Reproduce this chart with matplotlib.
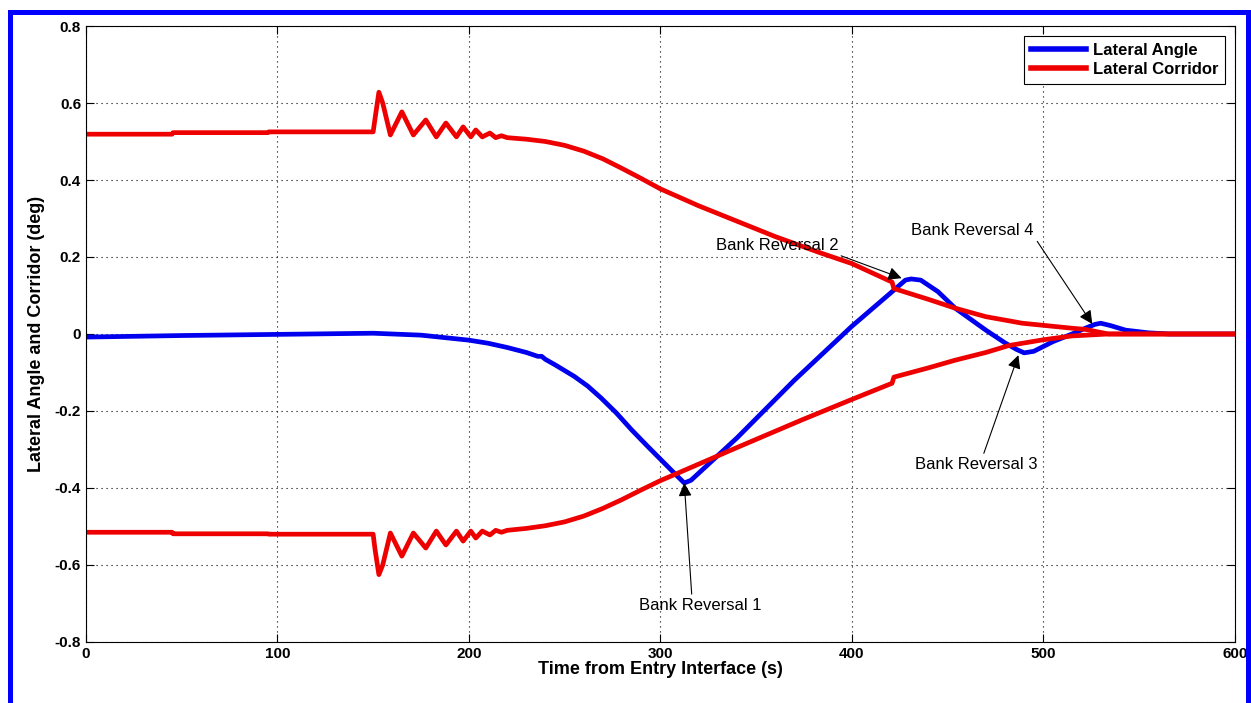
import matplotlib
matplotlib.use("Agg")
import matplotlib.pyplot as plt
from matplotlib.patches import Rectangle

plt.rcParams['font.family'] = ['Liberation Sans', 'DejaVu Sans']

# lateral angle (blue)
t_angle = [0, 50, 100, 150, 175, 200, 210, 220, 230, 236, 238, 240, 245, 255,
           262, 269, 277, 285, 293, 300, 308, 312.5, 316, 340, 370, 400, 422,
           428, 431, 436, 445, 454, 470, 480, 486, 490, 495, 505, 515, 522,
           527, 530, 535, 543, 555, 566, 600]
angle = [-0.008, -0.004, -0.001, 0.002, -0.003, -0.016, -0.024, -0.035, -0.048,
         -0.058, -0.058, -0.066, -0.08, -0.11, -0.135, -0.166, -0.205, -0.249,
         -0.29, -0.325, -0.365, -0.387, -0.38, -0.27, -0.12, 0.02, 0.114,
         0.14, 0.143, 0.14, 0.11, 0.067, 0.01, -0.023, -0.04, -0.049, -0.045,
         -0.02, 0.0, 0.015, 0.025, 0.028, 0.022, 0.01, 0.003, 0.0, 0.0]

# corridor upper bound (red)
t_up = [0, 45, 45.5, 95, 95.5, 150, 151, 153, 155, 159, 165, 171, 177.5, 183,
        188, 193.5, 197, 201, 203.6, 207, 211, 214, 217, 220, 230, 240, 250,
        260, 270, 280, 290, 300, 320, 340, 360, 384, 400, 421, 422, 440, 454,
        470, 489, 515, 522, 534, 600]
corr_up = [0.519, 0.519, 0.523, 0.523, 0.525, 0.525, 0.56, 0.628, 0.6, 0.517,
           0.577, 0.517, 0.556, 0.512, 0.548, 0.512, 0.538, 0.512, 0.53, 0.512,
           0.522, 0.51, 0.515, 0.51, 0.506, 0.50, 0.49, 0.475, 0.455, 0.43,
           0.404, 0.377, 0.333, 0.293, 0.253, 0.21, 0.183, 0.135, 0.118, 0.09,
           0.067, 0.045, 0.028, 0.015, 0.012, 0.0, 0.0]

# corridor lower bound (red)
t_lo = [0, 45, 45.5, 95, 95.5, 150, 151, 153, 155, 159, 165, 171, 177.5, 183,
        188, 193.5, 197, 201, 203.6, 207, 211, 214, 217, 220, 230, 240, 250,
        260, 270, 280, 290, 300, 307, 340, 374, 400, 421, 422, 440, 454, 470,
        482, 500, 515, 534, 600]
corr_lo = [-0.515, -0.515, -0.519, -0.519, -0.52, -0.52, -0.56, -0.625, -0.6,
           -0.517, -0.577, -0.517, -0.556, -0.512, -0.548, -0.512, -0.538,
           -0.512, -0.53, -0.512, -0.522, -0.51, -0.515, -0.51, -0.505, -0.498,
           -0.488, -0.473, -0.453, -0.43, -0.405, -0.381, -0.366, -0.295,
           -0.223, -0.17, -0.128, -0.112, -0.088, -0.068, -0.048, -0.03, -0.015,
           -0.005, 0.0, 0.0]

# (label, arrow tip, text position, arrow start on text box)
notes = [("Bank Reversal 1", (312.5, -0.387), (321, -0.706), (0.43, 1.0)),
         ("Bank Reversal 2", (426, 0.145), (361, 0.231), (0.95, 0.0)),
         ("Bank Reversal 3", (487, -0.055), (465, -0.34), (0.55, 1.0)),
         ("Bank Reversal 4", (525.6, 0.026), (463, 0.27), (1.0, 0.1))]

fig = plt.figure(figsize=(12.51, 7.03), dpi=100)
ax = fig.add_axes([0.0687, 0.0868, 0.9183, 0.8762])

ax.plot(t_angle, angle, color='#0000ee', lw=3.4, label='Lateral Angle')
ax.plot(t_up, corr_up, color='#ee0000', lw=3.4, label='Lateral Corridor')
ax.plot(t_lo, corr_lo, color='#ee0000', lw=3.4)

for txt, tip, pos, rp in notes:
    ax.annotate(txt, xy=tip, xytext=pos, ha='center', va='center', fontsize=12,
                arrowprops=dict(arrowstyle='-|>', color='black', lw=0.8,
                                mutation_scale=20, shrinkA=1, shrinkB=0,
                                relpos=rp))

ax.set_xlim(0, 600)
ax.set_ylim(-0.8, 0.8)
ax.set_xticks(range(0, 601, 100))
ax.set_yticks([-0.8, -0.6, -0.4, -0.2, 0, 0.2, 0.4, 0.6, 0.8])
ax.set_yticklabels(['-0.8', '-0.6', '-0.4', '-0.2', '0', '0.2', '0.4', '0.6', '0.8'])
ax.tick_params(direction='in', top=True, right=True, length=6, width=0.8,
               labelsize=11)
for lab in ax.get_xticklabels() + ax.get_yticklabels():
    lab.set_fontweight('bold')
ax.grid(True, color='black', linestyle=(0, (1, 3.5)), lw=0.8)
for s in ax.spines.values():
    s.set_linewidth(0.8)

ax.set_xlabel('Time from Entry Interface (s)', fontsize=13, fontweight='bold', labelpad=0)
ax.set_ylabel('Lateral Angle and Corridor (deg)', fontsize=13, fontweight='bold', labelpad=7)

leg = ax.legend(loc='upper right', fancybox=False, framealpha=1, edgecolor='black',
                prop={'weight': 'bold', 'size': 12}, handlelength=3.3,
                borderaxespad=0.6, labelspacing=0.25, handletextpad=0.4)
leg.get_frame().set_linewidth(0.8)
for h in leg.get_lines():
    h.set_linewidth(4)

fig.add_artist(Rectangle((0.0076, -0.02), 0.99, 1.003, transform=fig.transFigure,
                         fill=False, edgecolor='#0000ff', lw=3.6))

fig.savefig('out.png', dpi=100)
